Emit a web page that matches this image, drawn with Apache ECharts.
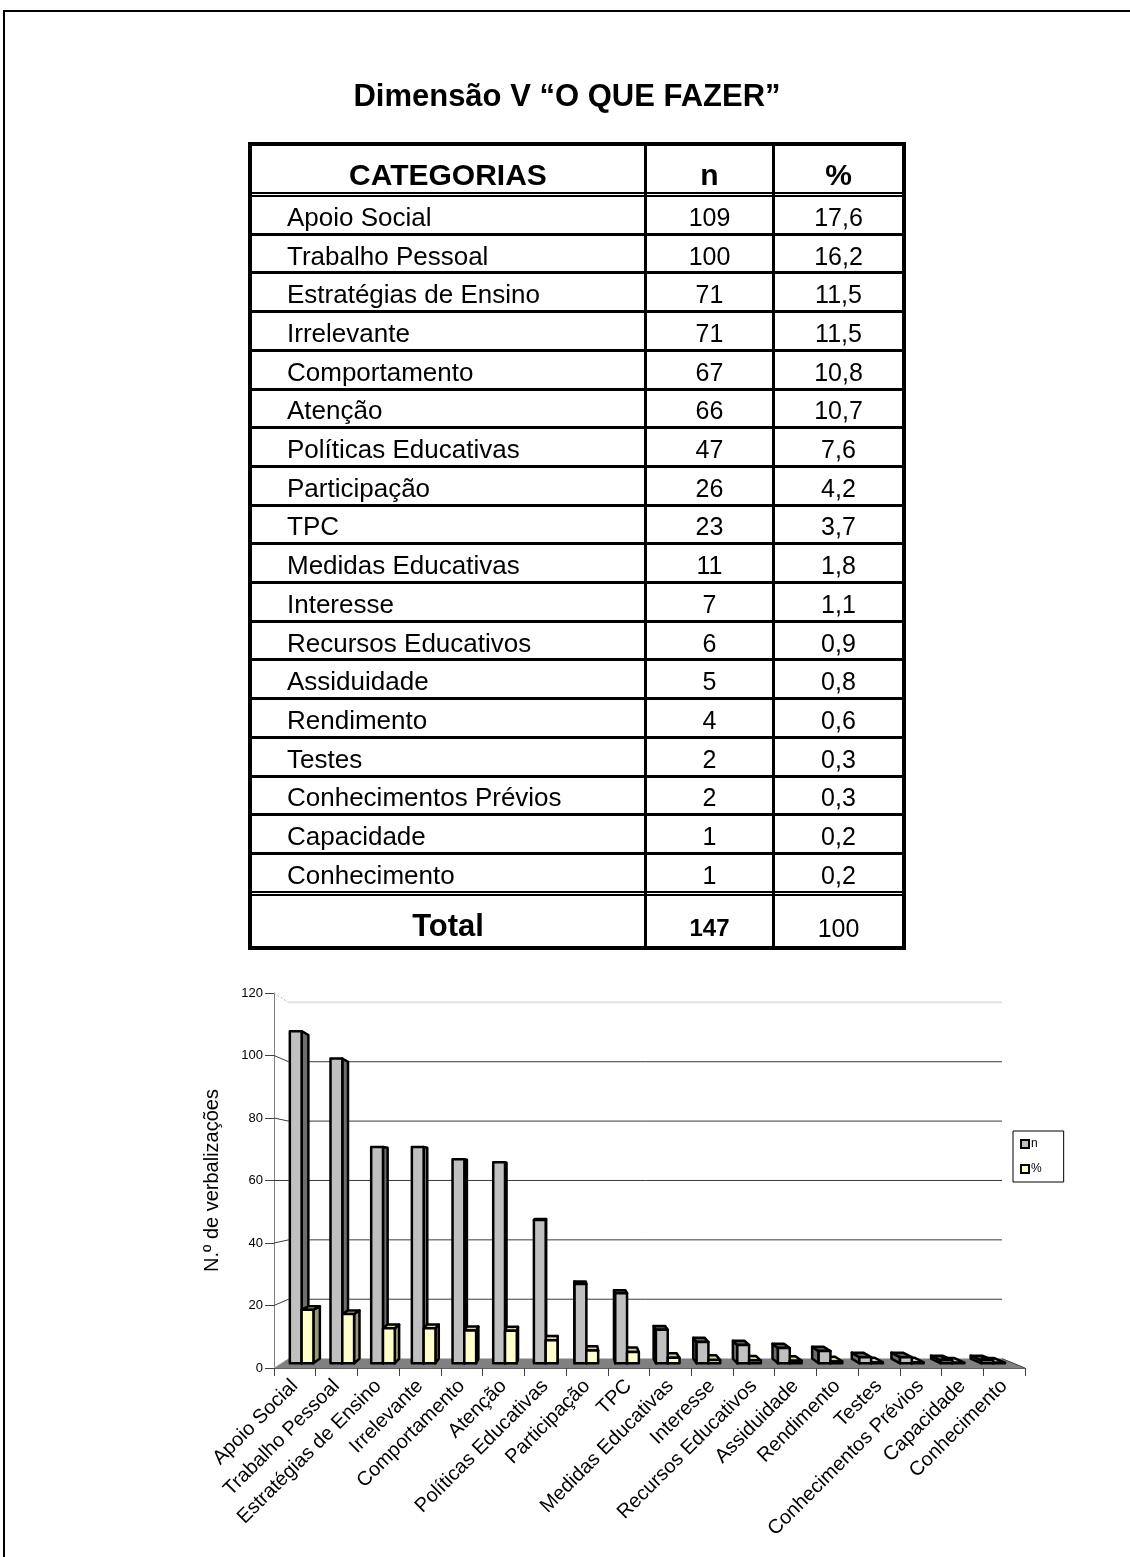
<!DOCTYPE html>
<html>
<head>
<meta charset="utf-8">
<script src="https://cdn.jsdelivr.net/npm/echarts@6/dist/echarts.min.js"></script>
<style>
  html, body { margin: 0; padding: 0; background: #fff; }
  body { width: 1130px; height: 1557px; position: relative; overflow: hidden;
         font-family: "Liberation Sans", Arial, sans-serif; color: #000; }
  #frame { position: absolute; left: 3px; top: 10px; width: 1300px; height: 1700px;
           border: 2px solid #000; box-sizing: border-box; }
  #chart { position: absolute; left: 0; top: 0; width: 1130px; height: 1557px; }
  #title { position: absolute; left: 0; top: 76px; width: 1134px; height: 40px; line-height: 40px;
           text-align: center; font-weight: bold; font-size: 31px; white-space: nowrap; }
  .rule { position: absolute; background: #000; }
  .dbl { position: absolute; border-top: 2px solid #000; border-bottom: 2px solid #000; box-sizing: border-box; }
  .cell { position: absolute; white-space: nowrap; height: 40px; line-height: 40px; }
</style>
</head>
<body>
<div id="frame"></div>
<div id="chart"></div>
<div id="title">Dimensão V “O QUE FAZER”</div>
<div id="table"></div>
<script>
// Categories and counts of verbalisations (dimension V)
const categories = [
  'Apoio Social', 'Trabalho Pessoal', 'Estratégias de Ensino', 'Irrelevante',
  'Comportamento', 'Atenção', 'Políticas Educativas', 'Participação', 'TPC',
  'Medidas Educativas', 'Interesse', 'Recursos Educativos', 'Assiduidade',
  'Rendimento', 'Testes', 'Conhecimentos Prévios', 'Capacidade', 'Conhecimento'
];
const nValues = [109, 100, 71, 71, 67, 66, 47, 26, 23, 11, 7, 6, 5, 4, 2, 2, 1, 1];
const pctValues = [17.6, 16.2, 11.5, 11.5, 10.8, 10.7, 7.6, 4.2, 3.7, 1.8, 1.1, 0.9, 0.8, 0.6, 0.3, 0.3, 0.2, 0.2];
const tableHeader = ['CATEGORIAS', 'n', '%'];
const totalRow = ['Total', '147', '100'];
const yTicks = [0, 20, 40, 60, 80, 100, 120];

// ---------- table ----------
const table = document.getElementById('table');
function add(cls, css, text) {
  const el = document.createElement('div');
  el.className = cls;
  Object.assign(el.style, css);
  if (text !== undefined) el.textContent = text;
  table.appendChild(el);
  return el;
}
const T = { left: 248, right: 906, top: 142, bottom: 950, border: 4,
            col1: 644, col2: 772, colW: 3,
            headBottom: 192, firstRow: 197, pitch: 38.7, rowLine: 3 };
// outer box
add('rule', { left: T.left + 'px', top: T.top + 'px', width: (T.right - T.left) + 'px', height: T.border + 'px' });
add('rule', { left: T.left + 'px', top: (T.bottom - T.border) + 'px', width: (T.right - T.left) + 'px', height: T.border + 'px' });
add('rule', { left: T.left + 'px', top: T.top + 'px', width: T.border + 'px', height: (T.bottom - T.top) + 'px' });
add('rule', { left: (T.right - T.border) + 'px', top: T.top + 'px', width: T.border + 'px', height: (T.bottom - T.top) + 'px' });
// column rules
[T.col1, T.col2].forEach(x => add('rule', { left: x + 'px', top: T.top + 'px', width: T.colW + 'px', height: (T.bottom - T.top) + 'px' }));
// header double rule
add('dbl', { left: T.left + 'px', top: T.headBottom + 'px', width: (T.right - T.left) + 'px', height: '5px' });
// row rules
for (let i = 0; i < categories.length - 1; i++) {
  const y = T.firstRow + (i + 1) * T.pitch - T.rowLine;
  add('rule', { left: T.left + 'px', top: y.toFixed(1) + 'px', width: (T.right - T.left) + 'px', height: T.rowLine + 'px' });
}
const totalTop = T.firstRow + categories.length * T.pitch - T.rowLine;
add('dbl', { left: T.left + 'px', top: totalTop.toFixed(1) + 'px', width: (T.right - T.left) + 'px', height: '5px' });

const cx1 = (T.col1 + T.colW + T.col2) / 2, cx2 = (T.col2 + T.colW + T.right - T.border) / 2;
const catCx = (T.left + T.border + T.col1) / 2;
function centered(text, cx, cy, css) {
  add('cell', Object.assign({ left: (cx - 150) + 'px', width: '300px', textAlign: 'center', top: (cy - 20) + 'px' }, css), text);
}
// header
centered(tableHeader[0], catCx, 175, { fontSize: '30px', fontWeight: 'bold' });
centered(tableHeader[1], cx1, 175, { fontSize: '30px', fontWeight: 'bold' });
centered(tableHeader[2], cx2, 175, { fontSize: '30px', fontWeight: 'bold' });
// data rows
const fmtPct = v => v.toFixed(1).replace('.', ',');
categories.forEach((c, i) => {
  const cy = T.firstRow + i * T.pitch + (T.pitch - T.rowLine) / 2 + 2;
  add('cell', { left: '287px', top: (cy - 20) + 'px', fontSize: '26px' }, c);
  centered(String(nValues[i]), cx1, cy, { fontSize: '25px' });
  centered(fmtPct(pctValues[i]), cx2, cy, { fontSize: '25px' });
});
const totalCy = (totalTop + 5 + T.bottom - T.border) / 2 + 5;
centered(totalRow[0], catCx, totalCy, { fontSize: '31px', fontWeight: 'bold' });
centered(totalRow[1], cx1, totalCy + 2, { fontSize: '24px', fontWeight: 'bold' });
centered(totalRow[2], cx2, totalCy + 2, { fontSize: '25px' });

// ---------- 3D-look column chart ----------
// perspective: everything recedes toward a vanishing point; depth 0 = front axis plane, 1 = back wall
const VP = [565, 1180];
const SHRINK = 0.05;
const DEPTH_FRONT = 0.5, DEPTH_BACK = 1.0;
const BAR_FRAC = 0.29;
function project(x, y, d) {
  const k = 1 - SHRINK * d;
  return [VP[0] + (x - VP[0]) * k, VP[1] + (y - VP[1]) * k];
}
const outline = { stroke: '#000', lineWidth: 2.5, lineJoin: 'round' };
function poly(points, fill) {
  return { type: 'polygon', shape: { points }, style: Object.assign({ fill }, outline) };
}

function barRenderer(colors, slot, part) {
  return function (params, api) {
    const i = api.value(0), v = api.value(1);
    const base = api.coord([i, 0]);
    const top = api.coord([i, v]);
    const band = api.size([1, 0])[0];
    const w = band * BAR_FRAC;
    const x0 = slot === 0 ? base[0] - w : base[0];
    const x1 = x0 + w, yb = base[1], yt = top[1];
    const rect = [[x0, yt], [x1, yt], [x1, yb], [x0, yb]];
    const f = rect.map(p => project(p[0], p[1], DEPTH_FRONT));
    const b = rect.map(p => project(p[0], p[1], DEPTH_BACK));
    const children = [];
    if (part === 'front') {
      children.push(poly(f, colors.front));
    } else {
      if (x1 < VP[0]) children.push(poly([f[1], b[1], b[2], f[2]], colors.side));
      if (x0 > VP[0]) children.push(poly([f[0], b[0], b[3], f[3]], colors.side));
      if (yt > VP[1]) children.push(poly([f[0], f[1], b[1], b[0]], colors.top));
    }
    return { type: 'group', children };
  };
}

function wallRenderer(params, api) {
  const v = api.value(1);
  const band = api.size([1, 0])[0];
  const p = api.coord([0, v]);
  const L = p[0] - band / 2;
  const R = api.coord([categories.length - 1, v])[0] + band / 2;
  const y = p[1];
  const bl = project(L, y, 1), br = project(R, y, 1);
  const children = [];
  const line = (a, c, style) => ({ type: 'line', shape: { x1: a[0], y1: a[1], x2: c[0], y2: c[1] }, style });
  if (v === yTicks[0]) {
    children.push({ type: 'polygon', shape: { points: [[L, y], [R, y], br, bl] }, style: { fill: '#808080' } });
    children.push(line([R, y], br, { stroke: '#404040', lineWidth: 1 }));
    children.push(line([L, y], bl, { stroke: '#b0b0b0', lineWidth: 1, lineDash: [2, 2] }));
  } else if (v === yTicks[yTicks.length - 1]) {
    children.push(line(bl, br, { stroke: '#e3e3e3', lineWidth: 2 }));
    children.push(line([L, y], bl, { stroke: '#b0b0b0', lineWidth: 1, lineDash: [2, 2] }));
  } else {
    children.push(line(bl, br, { stroke: '#3a3a3a', lineWidth: 1 }));
    children.push(line([L, y], bl, { stroke: '#3a3a3a', lineWidth: 1 }));
  }
  return { type: 'group', children };
}

const nColors = { front: '#C0C0C0', side: '#6e6e6e', top: '#5c5c5c' };
const pColors = { front: '#FFFFCC', side: '#99997a', top: '#d6d6a6' };
const nData = nValues.map((v, i) => [i, v]);
const pData = pctValues.map((v, i) => [i, v]);

const chart = echarts.init(document.getElementById('chart'), null, { renderer: 'canvas' });
chart.setOption({
  animation: false,
  backgroundColor: 'transparent',
  textStyle: { fontFamily: 'Liberation Sans, Arial, sans-serif', color: '#000' },
  grid: { left: 274, top: 993, width: 751, height: 375, containLabel: false, outerBoundsMode: 'none' },
  legend: {
    orient: 'vertical', left: 1013, top: 1131,
    itemWidth: 8, itemHeight: 8, itemGap: 13,
    padding: [7, 22, 7, 7],
    borderColor: '#000', borderWidth: 1, borderRadius: 0,
    icon: 'rect',
    textStyle: { fontSize: 12, color: '#000', padding: [0, 0, 0, -3] },
    selectedMode: false,
    data: [
      { name: 'n', itemStyle: { color: nColors.front, borderColor: '#000', borderWidth: 2 } },
      { name: '%', itemStyle: { color: pColors.front, borderColor: '#000', borderWidth: 2 } }
    ]
  },
  xAxis: {
    type: 'category', data: categories, boundaryGap: true, z: 5,
    axisLine: { show: true, lineStyle: { color: '#606060', width: 1 } },
    axisTick: { show: true, length: 8, alignWithLabel: false, lineStyle: { color: '#404040' } },
    axisLabel: { interval: 0, rotate: 45, fontSize: 20, color: '#000', margin: 15, hideOverlap: false },
    splitLine: { show: false }
  },
  yAxis: {
    type: 'value', min: 0, max: 120, interval: 20,
    axisLine: { show: true, lineStyle: { color: '#808080', width: 1 } },
    axisTick: { show: true, length: 9, lineStyle: { color: '#404040' } },
    axisLabel: { fontSize: 13, color: '#000', margin: 11 },
    splitLine: { show: false },
    name: 'N.º de verbalizações', nameLocation: 'middle', nameGap: 52,
    nameTextStyle: { fontSize: 20, color: '#000' }
  },
  series: [
    { type: 'custom', name: 'wall', data: yTicks.map(v => [0, v]), renderItem: wallRenderer,
      encode: { x: 0, y: 1 }, clip: false, z: 1, silent: true },
    { type: 'custom', name: 'n', data: nData, renderItem: barRenderer(nColors, 0, 'sides'),
      encode: { x: 0, y: 1 }, clip: false, z: 2, itemStyle: { color: nColors.front } },
    { type: 'custom', name: '%', data: pData, renderItem: barRenderer(pColors, 1, 'sides'),
      encode: { x: 0, y: 1 }, clip: false, z: 3, itemStyle: { color: pColors.front } },
    { type: 'custom', name: 'n', data: nData, renderItem: barRenderer(nColors, 0, 'front'),
      encode: { x: 0, y: 1 }, clip: false, z: 4, itemStyle: { color: nColors.front } },
    { type: 'custom', name: '%', data: pData, renderItem: barRenderer(pColors, 1, 'front'),
      encode: { x: 0, y: 1 }, clip: false, z: 5, itemStyle: { color: pColors.front } }
  ]
});
</script>
</body>
</html>
